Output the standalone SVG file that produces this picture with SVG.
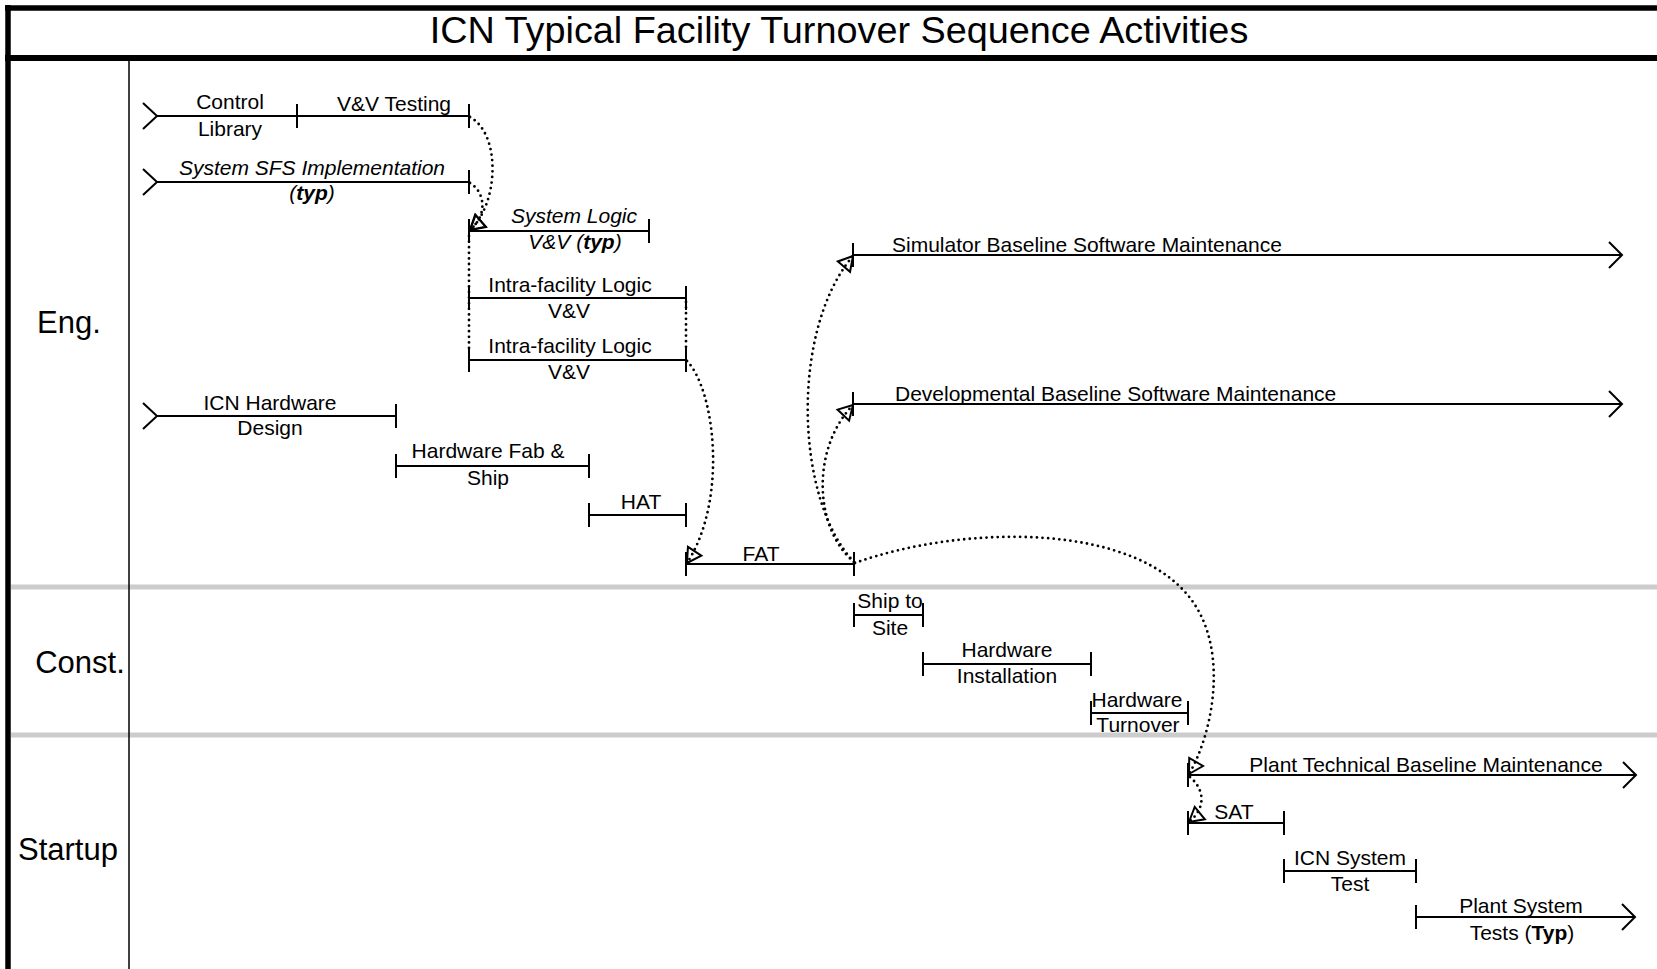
<svg xmlns="http://www.w3.org/2000/svg" width="1657" height="969" viewBox="0 0 1657 969">
  <style>
    .frame { stroke: #000; fill: none; }
    .lane-sep { stroke: #cccccc; stroke-width: 5; fill: none; }
    .bar { stroke: #000; stroke-width: 2; fill: none; stroke-linecap: butt; }
    .link { stroke: #000; stroke-width: 2.8; fill: none; stroke-dasharray: 0 5.6; stroke-linecap: round; }
    text { font-family: "Liberation Sans", Arial, sans-serif; fill: #000; }
    .title { font-size: 37.8px; text-anchor: middle; }
    .lane { font-size: 31px; text-anchor: middle; }
    .lbl { font-size: 21px; text-anchor: middle; }
    .lbl-start { font-size: 21px; text-anchor: start; }
    .it { font-style: italic; }
    .b { font-weight: bold; }
  </style>
  <defs>
    <marker id="open-tri" markerUnits="userSpaceOnUse" markerWidth="30" markerHeight="30" refX="0" refY="0" orient="auto" overflow="visible">
      <path d="M0,0 L-14,-8 L-14,8 Z" fill="none" stroke="#000" stroke-width="2" stroke-dasharray="none" stroke-linejoin="miter"/>
    </marker>
  </defs>

  <rect width="1657" height="969" fill="#fff"/>

  <!-- swimlane frame -->
  <g id="frame">
    <line class="lane-sep" x1="11" y1="587" x2="1657" y2="587"/>
    <line class="lane-sep" x1="11" y1="735" x2="1657" y2="735"/>
    <line class="frame" x1="5" y1="8" x2="1657" y2="8" stroke-width="5.5"/>
    <line class="frame" x1="5" y1="58" x2="1657" y2="58" stroke-width="6"/>
    <line class="frame" x1="8" y1="5" x2="8" y2="969" stroke-width="5.5"/>
    <line class="frame" x1="129" y1="61" x2="129" y2="969" stroke-width="1.5"/>
    <text class="title" x="839" y="43">ICN Typical Facility Turnover Sequence Activities</text>
    <text class="lane" x="69" y="333">Eng.</text>
    <text class="lane" x="80" y="673">Const.</text>
    <text class="lane" x="68" y="860">Startup</text>
  </g>

  <!-- activities -->
  <g id="control-library">
    <path class="bar" d="M143,103 L157,116 L143,129 M157,116 H297 M297,104 V128"/>
    <text class="lbl" x="230" y="109">Control</text>
    <text class="lbl" x="230" y="136">Library</text>
  </g>
  <g id="vv-testing">
    <path class="bar" d="M297,116 H469 M469,104 V128"/>
    <text class="lbl" x="394" y="111">V&amp;V Testing</text>
  </g>
  <g id="system-sfs">
    <path class="bar" d="M143,169 L157,182 L143,195 M157,182 H469 M469,170 V194"/>
    <text class="lbl it" x="312" y="175">System SFS Implementation</text>
    <text class="lbl it" x="312" y="200">(<tspan class="b">typ</tspan>)</text>
  </g>
  <g id="system-logic">
    <path class="bar" d="M469,219 V243 M469,231 H649 M649,219 V243"/>
    <text class="lbl it" x="574" y="223">System Logic</text>
    <text class="lbl it" x="575" y="249">V&amp;V (<tspan class="b">typ</tspan>)</text>
  </g>
  <g id="intra-facility-1">
    <path class="bar" d="M469,286 V310 M469,298 H686 M686,286 V310"/>
    <text class="lbl" x="570" y="292">Intra-facility Logic</text>
    <text class="lbl" x="569" y="318">V&amp;V</text>
  </g>
  <g id="intra-facility-2">
    <path class="bar" d="M469,348 V372 M469,360 H686 M686,348 V372"/>
    <text class="lbl" x="570" y="353">Intra-facility Logic</text>
    <text class="lbl" x="569" y="379">V&amp;V</text>
  </g>
  <g id="icn-hardware-design">
    <path class="bar" d="M143,403 L157,416 L143,429 M157,416 H396 M396,404 V428"/>
    <text class="lbl" x="270" y="410">ICN Hardware</text>
    <text class="lbl" x="270" y="435">Design</text>
  </g>
  <g id="hardware-fab-ship">
    <path class="bar" d="M396,454 V478 M396,466 H589 M589,454 V478"/>
    <text class="lbl" x="488" y="458">Hardware Fab &amp;</text>
    <text class="lbl" x="488" y="485">Ship</text>
  </g>
  <g id="hat">
    <path class="bar" d="M589,503 V527 M589,515 H686 M686,503 V527"/>
    <text class="lbl" x="641" y="509">HAT</text>
  </g>
  <g id="fat">
    <path class="bar" d="M686,552 V576 M686,564 H854 M854,552 V576"/>
    <text class="lbl" x="761" y="561">FAT</text>
  </g>
  <g id="simulator-baseline">
    <path class="bar" d="M853,243 V267 M853,255 H1622 M1609,242 L1622,255 L1609,268"/>
    <text class="lbl-start" x="892" y="252">Simulator Baseline Software Maintenance</text>
  </g>
  <g id="developmental-baseline">
    <path class="bar" d="M853,392 V416 M853,404 H1622 M1609,391 L1622,404 L1609,417"/>
    <text class="lbl-start" x="895" y="401">Developmental Baseline Software Maintenance</text>
  </g>
  <g id="ship-to-site">
    <path class="bar" d="M854,603 V627 M854,615 H923 M923,603 V627"/>
    <text class="lbl" x="890" y="608">Ship to</text>
    <text class="lbl" x="890" y="635">Site</text>
  </g>
  <g id="hardware-installation">
    <path class="bar" d="M923,652 V676 M923,664 H1091 M1091,652 V676"/>
    <text class="lbl" x="1007" y="657">Hardware</text>
    <text class="lbl" x="1007" y="683">Installation</text>
  </g>
  <g id="hardware-turnover">
    <path class="bar" d="M1091,701 V725 M1091,713 H1188 M1188,701 V725"/>
    <text class="lbl" x="1137" y="707">Hardware</text>
    <text class="lbl" x="1138" y="732">Turnover</text>
  </g>
  <g id="plant-technical-baseline">
    <path class="bar" d="M1188,763 V787 M1188,775 H1636 M1623,762 L1636,775 L1623,788"/>
    <text class="lbl" x="1426" y="772">Plant Technical Baseline Maintenance</text>
  </g>
  <g id="sat">
    <path class="bar" d="M1188,811 V835 M1188,823 H1284 M1284,811 V835"/>
    <text class="lbl" x="1234" y="819">SAT</text>
  </g>
  <g id="icn-system-test">
    <path class="bar" d="M1284,859 V883 M1284,871 H1416 M1416,859 V883"/>
    <text class="lbl" x="1350" y="865">ICN System</text>
    <text class="lbl" x="1350" y="891">Test</text>
  </g>
  <g id="plant-system-tests">
    <path class="bar" d="M1416,905 V929 M1416,917 H1635 M1622,904 L1635,917 L1622,930"/>
    <text class="lbl" x="1521" y="913">Plant System</text>
    <text class="lbl" x="1522" y="940">Tests (<tspan class="b">Typ</tspan>)</text>
  </g>

  <!-- dependency links -->
  <g id="connectors">
    <path class="link" d="M470,117 C502,135 498,205 470,230" marker-end="url(#open-tri)"/>
    <path class="link" d="M470,183 C485,192 488,215 470,230" marker-end="url(#open-tri)"/>
    <path class="link" d="M469,236 V350"/>
    <path class="link" d="M686,302 V350"/>
    <path class="link" d="M687,361 C715,390 728,500 687,563" marker-end="url(#open-tri)"/>
    <path class="link" d="M854,562 C795,500 790,330 853,256" marker-end="url(#open-tri)"/>
    <path class="link" d="M854,562 C815,530 810,450 853,405" marker-end="url(#open-tri)"/>
    <path class="link" d="M855,563 C960,525 1140,520 1195,605 C1228,656 1212,735 1189,774" marker-end="url(#open-tri)"/>
    <path class="link" d="M1190,777 C1205,790 1206,808 1189,822" marker-end="url(#open-tri)"/>
  </g>
</svg>
